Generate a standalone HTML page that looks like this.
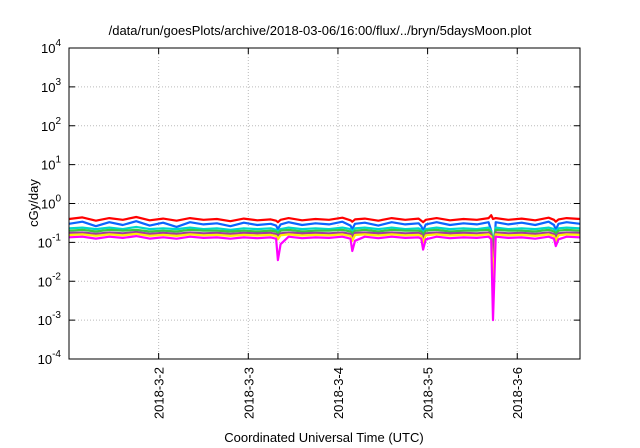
<!DOCTYPE html>
<html><head><meta charset="utf-8"><style>
html,body{margin:0;padding:0;background:#fff}
svg{display:block;font-family:"Liberation Sans",sans-serif}
</style></head><body>
<svg id="chart" width="640" height="448" viewBox="0 0 640 448">
<text x="320" y="35" font-size="13" text-anchor="middle">/data/run/goesPlots/archive/2018-03-06/16:00/flux/../bryn/5daysMoon.plot</text>
<g id="grid"></g>
<g id="series"></g>
<g id="axes"></g>
<text transform="translate(38,203) rotate(-90)" font-size="13" text-anchor="middle">cGy/day</text>
<text x="324" y="442" font-size="13" text-anchor="middle">Coordinated Universal Time (UTC)</text>
</svg>
<script>
const yExponents=[-4,-3,-2,-1,0,1,2,3,4];
const xTickDays=[1,2,3,4,5];
const xTickLabels=["2018-3-2","2018-3-3","2018-3-4","2018-3-5","2018-3-6"];
const times=[0,0.15,0.3,0.45,0.6,0.75,0.9,1.05,1.2,1.35,1.5,1.65,1.8,1.95,2.1,2.25,2.31,2.33,2.36,2.45,2.6,2.75,2.9,3.05,3.14,3.16,3.19,3.3,3.45,3.6,3.75,3.9,3.93,3.95,3.98,4.1,4.25,4.4,4.55,4.68,4.71,4.73,4.76,4.9,5.05,5.2,5.35,5.41,5.43,5.46,5.55,5.7];
const red=[0.4,0.44,0.36,0.42,0.38,0.45,0.37,0.41,0.36,0.42,0.38,0.4,0.35,0.41,0.37,0.39,0.36,0.33,0.38,0.42,0.37,0.4,0.38,0.43,0.37,0.34,0.39,0.41,0.36,0.42,0.38,0.41,0.36,0.33,0.38,0.42,0.37,0.4,0.38,0.42,0.5,0.4,0.42,0.38,0.41,0.37,0.43,0.38,0.34,0.39,0.42,0.4];
const blue=[0.3,0.34,0.26,0.33,0.28,0.35,0.27,0.32,0.25,0.33,0.29,0.31,0.26,0.32,0.28,0.3,0.27,0.22,0.29,0.33,0.28,0.31,0.29,0.34,0.27,0.22,0.3,0.32,0.27,0.33,0.29,0.31,0.26,0.2,0.29,0.33,0.28,0.31,0.29,0.33,0.2,0.015,0.33,0.29,0.32,0.28,0.34,0.28,0.21,0.3,0.33,0.3];
const cyan=[0.23,0.24,0.22,0.24,0.22,0.25,0.22,0.23,0.22,0.24,0.22,0.23,0.21,0.23,0.22,0.23,0.21,0.19,0.22,0.24,0.22,0.23,0.22,0.24,0.22,0.19,0.23,0.24,0.22,0.24,0.22,0.23,0.21,0.18,0.22,0.24,0.22,0.23,0.22,0.24,0.2,0.1,0.24,0.22,0.23,0.22,0.24,0.22,0.19,0.23,0.24,0.23];
const green=[0.2,0.21,0.19,0.21,0.2,0.21,0.19,0.2,0.19,0.21,0.2,0.2,0.19,0.2,0.19,0.2,0.19,0.17,0.2,0.21,0.19,0.2,0.2,0.21,0.19,0.17,0.2,0.21,0.19,0.21,0.2,0.2,0.19,0.16,0.2,0.21,0.19,0.2,0.2,0.21,0.18,0.08,0.21,0.2,0.2,0.19,0.21,0.19,0.17,0.2,0.21,0.2];
const purple=[0.175,0.18,0.165,0.18,0.17,0.185,0.165,0.175,0.165,0.18,0.17,0.175,0.165,0.175,0.17,0.175,0.165,0.15,0.17,0.18,0.17,0.175,0.17,0.18,0.165,0.14,0.175,0.18,0.17,0.18,0.17,0.175,0.165,0.13,0.17,0.18,0.17,0.175,0.17,0.18,0.16,0.05,0.18,0.17,0.175,0.165,0.18,0.165,0.14,0.17,0.18,0.175];
const yellow=[0.155,0.16,0.148,0.16,0.152,0.165,0.148,0.156,0.147,0.16,0.152,0.156,0.147,0.156,0.15,0.156,0.147,0.12,0.152,0.16,0.15,0.156,0.152,0.16,0.147,0.11,0.155,0.16,0.15,0.16,0.152,0.156,0.147,0.1,0.152,0.16,0.15,0.156,0.152,0.16,0.14,0.01,0.16,0.152,0.156,0.147,0.16,0.147,0.11,0.152,0.16,0.156];
const magenta=[0.135,0.14,0.125,0.14,0.13,0.145,0.125,0.135,0.124,0.14,0.13,0.134,0.124,0.134,0.128,0.134,0.124,0.035,0.09,0.14,0.128,0.134,0.13,0.14,0.124,0.06,0.11,0.14,0.128,0.14,0.13,0.134,0.124,0.065,0.12,0.14,0.128,0.134,0.13,0.14,0.12,0.001,0.14,0.13,0.134,0.124,0.14,0.124,0.08,0.12,0.14,0.134];
const seriesList=[[red,"#ff0000"],[blue,"#0a64ff"],[cyan,"#00d8c8"],[green,"#3cc83c"],[purple,"#a03ca0"],[yellow,"#ffee00"],[magenta,"#ff00ff"]];
const L=69,R=580,T=48,B=359,XMAX=5.7;
const NS="http://www.w3.org/2000/svg";
function xs(d){return L+(d/XMAX)*(R-L);}
function ys(v){return B-(Math.log10(v)+4)/8*(B-T);}
function mk(tag,at,parent){const e=document.createElementNS(NS,tag);for(const k in at)e.setAttribute(k,at[k]);parent.appendChild(e);return e;}
const grid=document.getElementById("grid"),axes=document.getElementById("axes"),ser=document.getElementById("series");
yExponents.forEach(function(p){
  const y=ys(Math.pow(10,p));
  if(p>-4&&p<4){const g=mk("line",{x1:L,x2:R,y1:y,y2:y,stroke:"#bbb","stroke-dasharray":"1,2"},grid);
  
  }
  const t1=mk("line",{x1:L,x2:L+6,y1:y,y2:y,stroke:"#000"},axes);
  
  
  const t2=mk("line",{x1:R-6,x2:R,y1:y,y2:y,stroke:"#000"},axes);
  
  
  const tx=mk("text",{x:L-8,y:y+5,"font-size":"13","text-anchor":"end"},axes);
  
  
  tx.textContent="10";
  const sp=mk("tspan",{dy:"-7","font-size":"10"},tx);sp.textContent=String(p);
});
xTickDays.forEach(function(d,i){
  const x=xs(d);
  const g=mk("line",{x1:x,x2:x,y1:T,y2:B,stroke:"#bbb","stroke-dasharray":"1,2"},grid);
  
  
  const t1=mk("line",{x1:x,x2:x,y1:B,y2:B-6,stroke:"#000"},axes);
  
  
  const t2=mk("line",{x1:x,x2:x,y1:T,y2:T+6,stroke:"#000"},axes);
  
  
  const tx=mk("text",{transform:"translate("+(x+5)+","+(B+8)+") rotate(-90)","font-size":"13","text-anchor":"end"},axes);
  
  
  tx.textContent=xTickLabels[i];
});
const frame=mk("rect",{x:L,y:T,width:R-L,height:B-T,fill:"none",stroke:"#000","stroke-width":"1"},axes);


seriesList.forEach(function(s,si){
  const pts=times.map(function(t,i){return xs(t).toFixed(1)+","+ys(s[0][i]).toFixed(1);}).join(" ");
  const pl=mk("polyline",{points:pts,fill:"none",stroke:s[1],"stroke-width":"2.2","stroke-linejoin":"round"},ser);
  
  
});
</script>
</body></html>
